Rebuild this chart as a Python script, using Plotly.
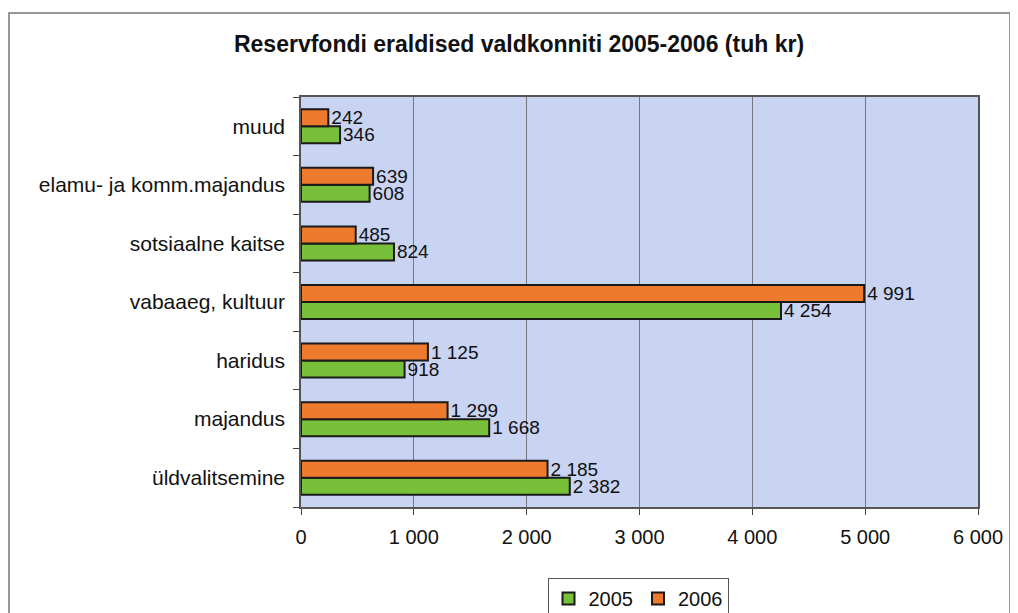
import plotly.graph_objects as go

categories = ["üldvalitsemine", "majandus", "haridus", "vabaaeg, kultuur",
              "sotsiaalne kaitse", "elamu- ja komm.majandus", "muud"]
values_2005 = [2382, 1668, 918, 4254, 824, 608, 346]
values_2006 = [2185, 1299, 1125, 4991, 485, 639, 242]
x_ticks = [0, 1000, 2000, 3000, 4000, 5000, 6000]

FONT = "Liberation Sans, Arial, sans-serif"

fig = go.Figure()
fig.add_trace(go.Bar(
    y=categories, x=values_2005, name="2005", orientation="h",
    marker=dict(color="#78bf3a", line=dict(color="#1a1a1a", width=2)),
    texttemplate="%{x:,}", textposition="outside", cliponaxis=False,
    constraintext="none",
    textfont=dict(size=19, color="#111111", family=FONT),
))
fig.add_trace(go.Bar(
    y=categories, x=values_2006, name="2006", orientation="h",
    marker=dict(color="#ee7a2e", line=dict(color="#1a1a1a", width=2)),
    texttemplate="%{x:,}", textposition="outside", cliponaxis=False,
    constraintext="none",
    textfont=dict(size=19, color="#111111", family=FONT),
))

# page body has an 8px margin, so figure coords = screen coords - 8
OFF = 8
W, H = 1010, 605
L, T = 301 - OFF, 97 - OFF
R = W - (978 - OFF)
B = H - (507 - OFF)
pw, ph = W - L - R, H - T - B

def px(x):
    return (x - OFF - L) / pw

def py(y):
    return (H - B - (y - OFF)) / ph

fig.update_layout(
    width=W, height=H,
    barmode="group", bargap=0.42, bargroupgap=0.0,
    separators=", ",
    paper_bgcolor="white", plot_bgcolor="#c9d3f2",
    margin=dict(l=L, r=R, t=T, b=B, autoexpand=False),
    font=dict(family=FONT, size=20, color="#111111"),
    title=dict(text="<b>Reservfondi eraldised valdkonniti 2005-2006 (tuh kr)</b>",
               x=(519 - OFF) / W, xref="container", xanchor="center",
               y=1 - (44 - OFF) / H, yanchor="middle",
               font=dict(size=23, family=FONT, color="#111111")),
    legend=dict(orientation="h", x=px(638), xanchor="center", y=py(578), yanchor="top",
                bordercolor="#555555", borderwidth=1, bgcolor="white",
                font=dict(size=20, family=FONT), traceorder="normal",
                itemwidth=30, tracegroupgap=0),
    xaxis=dict(range=[0, 6000], tickvals=x_ticks, tickformat=",", automargin=False,
               showgrid=True, gridcolor="#767684", gridwidth=1,
               showline=True, linecolor="#555555", linewidth=1.5, mirror=True,
               ticks="outside", ticklen=6, tickcolor="#444444", ticklabelstandoff=5,
               tickfont=dict(size=20), zeroline=False),
    yaxis=dict(categoryorder="array", categoryarray=categories, automargin=False,
               showline=True, linecolor="#555555", linewidth=1.5, mirror=True,
               ticks="outside", ticklen=6, tickcolor="#444444", tickson="boundaries",
               ticklabelstandoff=10,
               showgrid=False, tickfont=dict(size=21)),
    shapes=[dict(type="rect", xref="paper", yref="paper",
                 x0=px(9), x1=px(1010), y0=py(630), y1=py(13),
                 line=dict(color="#777777", width=1.5), fillcolor="rgba(0,0,0,0)",
                 layer="below")],
)

fig.write_html("out.html")
